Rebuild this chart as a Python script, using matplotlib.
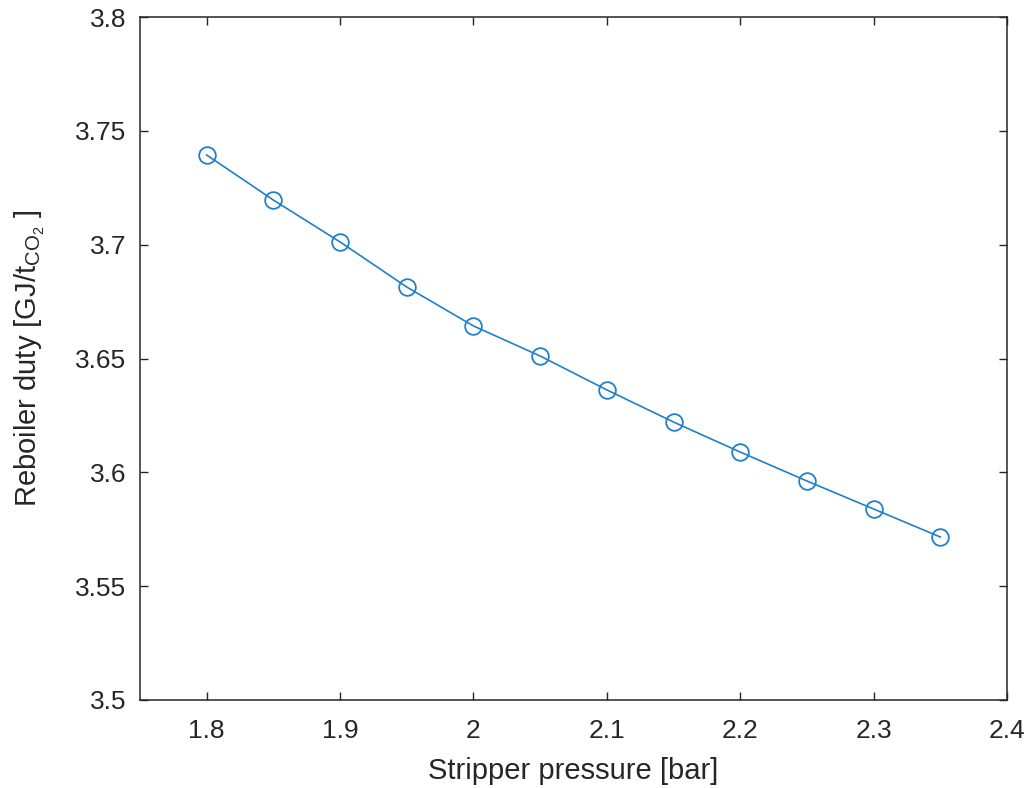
import matplotlib
matplotlib.use("Agg")
import matplotlib.pyplot as plt

plt.rcParams['font.family'] = ['Liberation Sans', 'DejaVu Sans']
plt.rcParams['mathtext.fontset'] = 'custom'
plt.rcParams['mathtext.rm'] = 'Liberation Sans'
plt.rcParams['mathtext.it'] = 'Liberation Sans:italic'

pressure = [1.80, 1.85, 1.90, 1.95, 2.00, 2.05, 2.10, 2.15, 2.20, 2.25, 2.30, 2.35]
duty = [3.7394, 3.7196, 3.7012, 3.6814, 3.6643, 3.6511, 3.6362, 3.6221,
        3.6089, 3.5962, 3.5839, 3.5716]

x_ticks = [1.8, 1.9, 2.0, 2.1, 2.2, 2.3, 2.4]
x_tick_labels = ['1.8', '1.9', '2', '2.1', '2.2', '2.3', '2.4']
y_ticks = [3.5, 3.55, 3.6, 3.65, 3.7, 3.75, 3.8]
y_tick_labels = ['3.5', '3.55', '3.6', '3.65', '3.7', '3.75', '3.8']

ink = '#262626'
fig = plt.figure(figsize=(10.31, 7.88), dpi=100)
ax = fig.add_axes([0.1358, 0.1117, 0.8409, 0.8667])

ax.plot(pressure, duty, '-o', color='#2080C8', linewidth=1.2,
        markersize=12, markerfacecolor='none', markeredgewidth=1.3)

ax.set_xlim(1.75, 2.4)
ax.set_ylim(3.5, 3.8)
ax.set_xticks(x_ticks)
ax.set_xticklabels(x_tick_labels)
ax.set_yticks(y_ticks)
ax.set_yticklabels(y_tick_labels)

ax.tick_params(direction='in', length=6, width=1.0, colors=ink,
               labelsize=19, top=True, right=True)
ax.tick_params(axis='x', pad=14)
ax.tick_params(axis='y', pad=10)
for spine in ax.spines.values():
    spine.set_color(ink)
    spine.set_linewidth(1.1)

ax.set_xlabel('Stripper pressure [bar]', fontsize=21, color=ink, labelpad=10)
ax.set_ylabel(r'Reboiler duty [GJ/t$_{\mathrm{CO}_2}$ ]', fontsize=21, color=ink, labelpad=20)

fig.savefig('out.png', dpi=100)
